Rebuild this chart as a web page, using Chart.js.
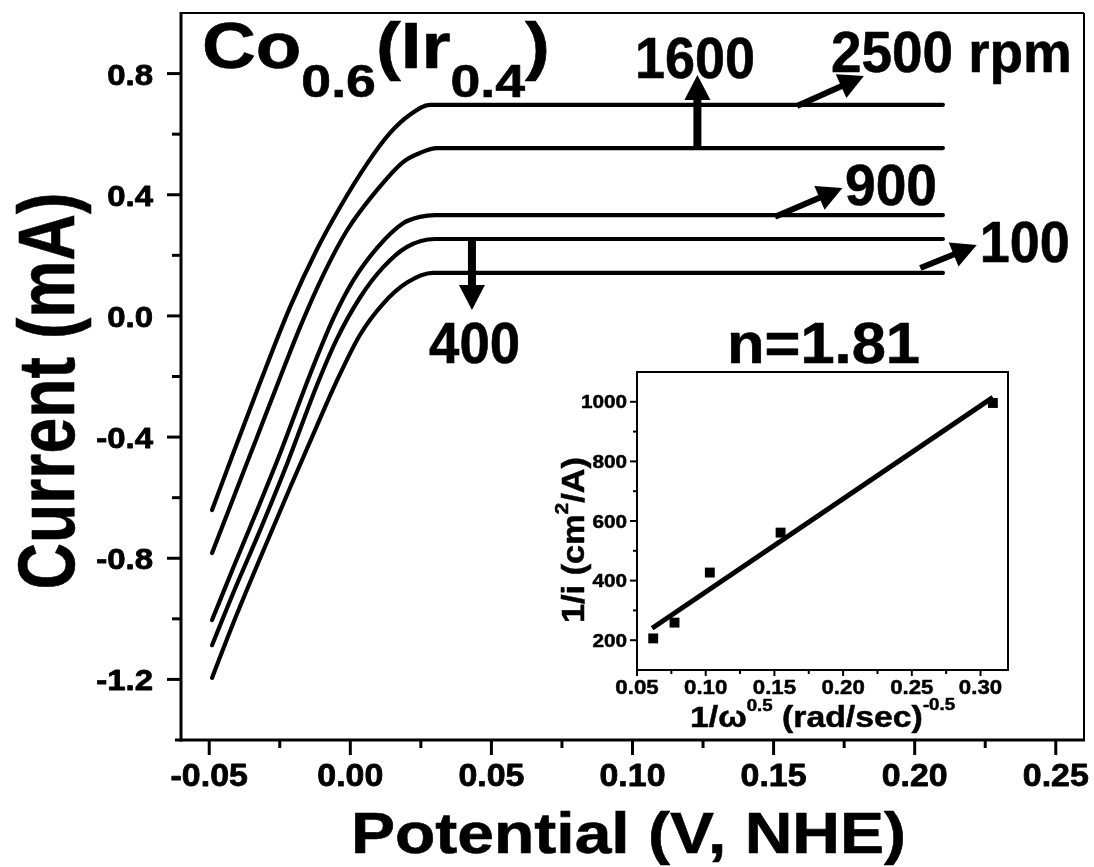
<!DOCTYPE html>
<html lang="en">
<head>
<meta charset="UTF-8">
<title>Co0.6(Ir0.4) RDE</title>
<script src="https://cdn.jsdelivr.net/npm/chart.js@4"></script>
<style>
  body { margin: 0; background: #fff; }
  #wrap { position: relative; width: 1094px; height: 867px; }
  #main { position: absolute; left: 0; top: 0; }
  #inset { position: absolute; left: 540px; top: 360px; }
</style>
</head>
<body>
<div id="wrap">
  <canvas id="main" width="1094" height="867"></canvas>
  <canvas id="inset" width="554" height="420"></canvas>
</div>
<script>
// polarization curves, potential (V vs NHE) / current (mA)
const pot2500 = [-0.049, -0.0416, -0.032, -0.0214, -0.0118, -0.0037, 0.0059, 0.0141, 0.0211, 0.0282, 0.21];
const cur2500 = [-0.641, -0.456, -0.221, 0.028, 0.220, 0.358, 0.502, 0.604, 0.664, 0.697, 0.697];
const pot1600 = [-0.049, -0.0426, -0.0331, -0.0249, -0.0178, -0.0097, -0.0012, 0.0095, 0.0187, 0.0247, 0.0307, 0.21];
const cur1600 = [-0.783, -0.629, -0.401, -0.204, -0.037, 0.133, 0.282, 0.416, 0.508, 0.538, 0.554, 0.554];
const pot900 = [-0.049, -0.0416, -0.0331, -0.0249, -0.0143, -0.0061, 0.0009, 0.0095, 0.0187, 0.0247, 0.030, 0.21];
const cur900 = [-1.004, -0.834, -0.643, -0.454, -0.194, -0.010, 0.115, 0.225, 0.306, 0.327, 0.333, 0.333];
const pot400 = [-0.049, -0.0416, -0.032, -0.0224, -0.0118, -0.0047, 0.0034, 0.0116, 0.0201, 0.030, 0.21];
const cur400 = [-1.087, -0.917, -0.708, -0.488, -0.228, -0.075, 0.060, 0.160, 0.228, 0.254, 0.254];
const pot100 = [-0.049, -0.0416, -0.032, -0.0214, -0.0118, -0.0047, 0.0034, 0.0116, 0.0201, 0.0293, 0.21];
const cur100 = [-1.195, -1.017, -0.801, -0.568, -0.362, -0.213, -0.063, 0.040, 0.110, 0.142, 0.142];

const xTicks = [-0.05, 0.00, 0.05, 0.10, 0.15, 0.20, 0.25];
const xMinor = [-0.025, 0.025, 0.075, 0.125, 0.175, 0.225];
const yTicks = [-1.2, -0.8, -0.4, 0.0, 0.4, 0.8];
const yMinor = [-1.0, -0.6, -0.2, 0.2, 0.6];

// Koutecky-Levich inset
const invSqrtOmega = [0.0618, 0.0773, 0.103, 0.1545, 0.309];
const invCurrent = [206, 259, 427, 561, 996];
const fitX = [0.061, 0.309];
const fitY = [240, 1015];
const insetXTicks = [0.05, 0.10, 0.15, 0.20, 0.25, 0.30];
const insetXMinor = [0.075, 0.125, 0.175, 0.225, 0.275];
const insetYTicks = [200, 400, 600, 800, 1000];
const insetYMinor = [300, 500, 700, 900];

// text labels (data coords) and arrows
const labels = [
  { t: '1600', x: 0.1009, y: 0.785, w: 120 },
  { t: '2500 rpm', x: 0.1703, y: 0.805, w: 241 },
  { t: '900', x: 0.1753, y: 0.366, w: 92 },
  { t: '100', x: 0.2231, y: 0.178, w: 90 },
  { t: '400', x: 0.0279, y: -0.1555, w: 91 },
  { t: 'n=1.81', x: 0.1335, y: -0.1555, w: 193 }
];
const arrows = [
  { x1: 0.123, y1: 0.554, x2: 0.123, y2: 0.795, w: 8 },
  { x1: 0.1583, y1: 0.693, x2: 0.182, y2: 0.792, w: 6 },
  { x1: 0.1505, y1: 0.327, x2: 0.1744, y2: 0.422, w: 6 },
  { x1: 0.202, y1: 0.158, x2: 0.222, y2: 0.234, w: 6 },
  { x1: 0.0431, y1: 0.254, x2: 0.0431, y2: 0.0195, w: 8 }
];

const FONT = '"Liberation Sans", Arial, sans-serif';
function font(size) { return 'bold ' + size + 'px ' + FONT; }

// draws a run of text pieces (sub/superscripts via dy), stretched to a width
function drawRich(ctx, parts, x, y, o) {
  ctx.save();
  let total = 0;
  const ws = parts.map(p => {
    ctx.font = font(p.size);
    const w = ctx.measureText(p.t).width;
    total += w;
    return w;
  });
  const sx = o.width ? o.width / total : (o.scale || 1);
  ctx.translate(x, y);
  if (o.rotate) ctx.rotate(-Math.PI / 2);
  ctx.scale(sx, 1);
  let cx = o.align === 'center' ? -total / 2 : (o.align === 'right' ? -total : 0);
  ctx.textAlign = 'left';
  ctx.textBaseline = 'alphabetic';
  ctx.fillStyle = '#000';
  ctx.strokeStyle = '#000';
  ctx.lineJoin = 'round';
  parts.forEach((p, i) => {
    ctx.font = font(p.size);
    ctx.fillText(p.t, cx, p.dy || 0);
    if (o.heavy) {
      ctx.lineWidth = o.heavy;
      ctx.strokeText(p.t, cx, p.dy || 0);
    }
    cx += ws[i];
  });
  ctx.restore();
}

function drawArrow(ctx, x1, y1, x2, y2, w) {
  const ang = Math.atan2(y2 - y1, x2 - x1);
  const hl = 25, hw = 13;
  const bx = x2 - hl * Math.cos(ang), by = y2 - hl * Math.sin(ang);
  ctx.save();
  ctx.strokeStyle = '#000';
  ctx.fillStyle = '#000';
  ctx.lineWidth = w;
  ctx.beginPath();
  ctx.moveTo(x1, y1);
  ctx.lineTo(bx + 2 * Math.cos(ang), by + 2 * Math.sin(ang));
  ctx.stroke();
  ctx.beginPath();
  ctx.moveTo(x2, y2);
  ctx.lineTo(bx + hw * Math.sin(ang), by - hw * Math.cos(ang));
  ctx.lineTo(bx - hw * Math.sin(ang), by + hw * Math.cos(ang));
  ctx.closePath();
  ctx.fill();
  ctx.restore();
}

function tick(ctx, x1, y1, x2, y2, w) {
  ctx.lineWidth = w;
  ctx.beginPath();
  ctx.moveTo(x1, y1);
  ctx.lineTo(x2, y2);
  ctx.stroke();
}

function series(xs, ys) {
  return {
    data: xs.map((v, i) => ({ x: v, y: ys[i] })),
    borderColor: '#000',
    borderWidth: 4.2,
    pointRadius: 0,
    cubicInterpolationMode: 'monotone',
    borderCapStyle: 'round',
    fill: false
  };
}

const mainDecor = {
  id: 'mainDecor',
  afterDraw(chart) {
    const { ctx, chartArea: a, scales: { x, y } } = chart;
    ctx.save();
    ctx.strokeStyle = '#000';
    // frame
    tick(ctx, a.left, a.top, a.right, a.top, 2);
    tick(ctx, a.right, a.top, a.right, a.bottom, 2);
    tick(ctx, a.left, a.top - 1, a.left, a.bottom + 1.5, 3);
    tick(ctx, a.left - 6, a.bottom, a.right + 1, a.bottom, 3);
    xTicks.forEach(v => {
      const px = x.getPixelForValue(v);
      tick(ctx, px, a.bottom, px, a.bottom + 15, 3);
      drawRich(ctx, [{ t: v.toFixed(2), size: 32 }], px, 786, { align: 'center', scale: 1.06, heavy: 0.8 });
    });
    xMinor.forEach(v => {
      const px = x.getPixelForValue(v);
      tick(ctx, px, a.bottom, px, a.bottom + 8, 3);
    });
    yTicks.forEach(v => {
      const py = y.getPixelForValue(v);
      tick(ctx, a.left - 14, py, a.left, py, 3);
      drawRich(ctx, [{ t: v.toFixed(1), size: 30 }], 153, py + 11, { align: 'right', scale: 1.1, heavy: 0.8 });
    });
    yMinor.forEach(v => {
      const py = y.getPixelForValue(v);
      tick(ctx, a.left - 9, py, a.left, py, 3);
    });
    // axis titles
    drawRich(ctx, [{ t: 'Potential (V, NHE)', size: 57 }], (a.left + a.right) / 2 - 4, 853, { align: 'center', width: 555, heavy: 0.6 });
    drawRich(ctx, [{ t: 'Current (mA)', size: 79 }], 74, 391, { rotate: true, align: 'center', width: 397, heavy: 0.6 });
    // sample name
    drawRich(ctx, [
      { t: 'Co', size: 64 }, { t: '0.6', size: 46, dy: 29 }, { t: '(', size: 64 },
      { t: 'Ir', size: 64 }, { t: '0.4', size: 46, dy: 29 }, { t: ')', size: 64 }
    ], x.getPixelForValue(-0.0526), y.getPixelForValue(0.818), { width: 348, heavy: 0.6 });
    labels.forEach(l => {
      drawRich(ctx, [{ t: l.t, size: 57 }], x.getPixelForValue(l.x), y.getPixelForValue(l.y), { width: l.w, heavy: 0.6 });
    });
    arrows.forEach(r => {
      drawArrow(ctx, x.getPixelForValue(r.x1), y.getPixelForValue(r.y1),
        x.getPixelForValue(r.x2), y.getPixelForValue(r.y2), r.w);
    });
    ctx.restore();
  }
};

new Chart(document.getElementById('main'), {
  type: 'line',
  data: {
    datasets: [
      series(pot2500, cur2500),
      series(pot1600, cur1600),
      series(pot900, cur900),
      series(pot400, cur400),
      series(pot100, cur100)
    ]
  },
  options: {
    responsive: false,
    animation: false,
    layout: { padding: { left: 181, top: 13, right: 10, bottom: 127 } },
    scales: {
      x: { type: 'linear', min: -0.06, max: 0.26, display: false },
      y: { type: 'linear', min: -1.4, max: 1.0, display: false }
    },
    plugins: { legend: { display: false }, tooltip: { enabled: false } }
  },
  plugins: [mainDecor]
});

const insetDecor = {
  id: 'insetDecor',
  afterDraw(chart) {
    const { ctx, chartArea: a, scales: { x, y } } = chart;
    ctx.save();
    ctx.strokeStyle = '#000';
    ctx.lineWidth = 2;
    ctx.strokeRect(a.left, a.top, a.right - a.left, a.bottom - a.top);
    insetXTicks.forEach(v => {
      const px = x.getPixelForValue(v);
      tick(ctx, px, a.bottom, px, a.bottom + 6, 2);
      drawRich(ctx, [{ t: v.toFixed(2), size: 21 }], px, 334, { align: 'center', scale: 1.06, heavy: 0.5 });
    });
    insetXMinor.forEach(v => {
      const px = x.getPixelForValue(v);
      tick(ctx, px, a.bottom, px, a.bottom + 4, 2);
    });
    insetYTicks.forEach(v => {
      const py = y.getPixelForValue(v);
      tick(ctx, a.left - 7, py, a.left, py, 2);
      drawRich(ctx, [{ t: String(v), size: 18 }], 87, py + 6.5, { align: 'right', scale: 1.15, heavy: 0.5 });
    });
    insetYMinor.forEach(v => {
      const py = y.getPixelForValue(v);
      tick(ctx, a.left - 4, py, a.left, py, 2);
    });
    drawRich(ctx, [
      { t: '1/\u03c9', size: 29 }, { t: '0.5', size: 16, dy: -16 },
      { t: ' (rad/sec)', size: 29 }, { t: '-0.5', size: 16, dy: -17 }
    ], 150, 367, { width: 265, heavy: 0.5 });
    drawRich(ctx, [
      { t: '1/i (cm', size: 31 }, { t: '2', size: 19, dy: -16 }, { t: '/A)', size: 31 }
    ], 44, 180, { rotate: true, align: 'center', width: 166, heavy: 0.5 });
    ctx.restore();
  }
};

new Chart(document.getElementById('inset'), {
  type: 'scatter',
  data: {
    datasets: [
      {
        data: invSqrtOmega.map((v, i) => ({ x: v, y: invCurrent[i] })),
        pointStyle: 'rect',
        pointRadius: 7,
        backgroundColor: '#000',
        borderColor: '#000',
        borderWidth: 0
      },
      {
        type: 'line',
        data: fitX.map((v, i) => ({ x: v, y: fitY[i] })),
        borderColor: '#000',
        borderWidth: 5,
        pointRadius: 0,
        fill: false
      }
    ]
  },
  options: {
    responsive: false,
    animation: false,
    layout: { padding: { left: 97, top: 12, right: 86, bottom: 110 } },
    scales: {
      x: { type: 'linear', min: 0.05, max: 0.32, display: false },
      y: { type: 'linear', min: 100, max: 1100, display: false }
    },
    plugins: { legend: { display: false }, tooltip: { enabled: false } }
  },
  plugins: [insetDecor]
});
</script>
</body>
</html>
